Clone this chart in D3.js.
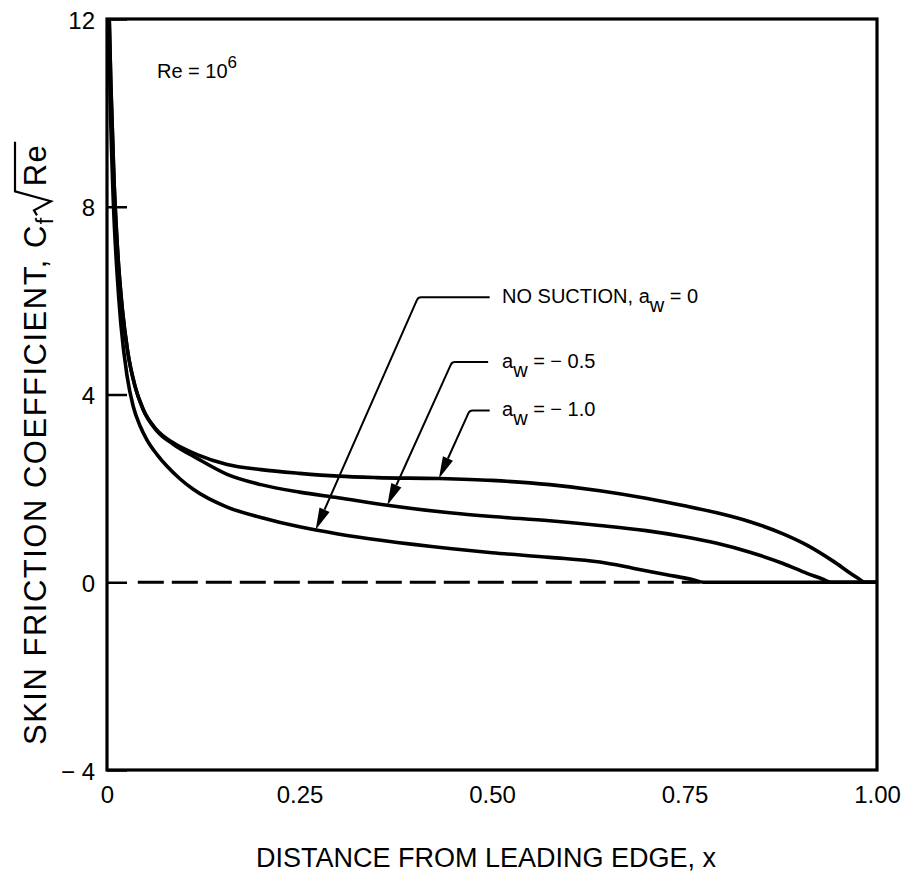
<!DOCTYPE html>
<html>
<head>
<meta charset="utf-8">
<script src="https://cdn.jsdelivr.net/npm/d3@7"></script>
<style>
  html, body { margin: 0; padding: 0; background: #fff; }
  svg { display: block; font-family: "Liberation Sans", Arial, Helvetica, sans-serif; }
</style>
</head>
<body>
<svg id="chart" width="907" height="875"></svg>
<script>
// Axis ticks
const xTicks = [0, 0.25, 0.5, 0.75, 1.0];
const xTickLabels = ["0", "0.25", "0.50", "0.75", "1.00"];
const yTicks = [-4, 0, 4, 8, 12];
const yTickLabels = ["\u2212 4", "0", "4", "8", "12"];

// Skin friction, no suction (a_w = 0)
const xNoSuction = [0.0015, 0.004, 0.008, 0.013, 0.018, 0.026, 0.034, 0.043, 0.052, 0.065, 0.078, 0.095, 0.112, 0.156, 0.2, 0.25, 0.3, 0.358, 0.445, 0.5, 0.575, 0.64, 0.683, 0.727, 0.76, 0.775, 1.0];
const cfNoSuction = [12.6, 10.4, 8.2, 6.6, 5.5, 4.4, 3.75, 3.33, 3.03, 2.72, 2.47, 2.2, 1.98, 1.60, 1.38, 1.18, 1.03, 0.89, 0.72, 0.63, 0.53, 0.43, 0.30, 0.16, 0.06, 0.0, 0.0];

// Skin friction, a_w = -0.5
const xSuction05 = [0.002, 0.005, 0.009, 0.014, 0.02, 0.027, 0.036, 0.047, 0.065, 0.086, 0.117, 0.156, 0.2, 0.25, 0.3, 0.364, 0.445, 0.5, 0.575, 0.64, 0.7, 0.75, 0.792, 0.835, 0.878, 0.909, 0.929, 0.94, 1.0];
const cfSuction05 = [12.6, 10.6, 8.6, 7.0, 5.8, 4.9, 4.2, 3.68, 3.22, 2.94, 2.64, 2.30, 2.08, 1.92, 1.80, 1.64, 1.48, 1.40, 1.31, 1.21, 1.10, 0.97, 0.83, 0.64, 0.40, 0.19, 0.07, 0.0, 0.0];

// Skin friction, a_w = -1.0
const xSuction10 = [0.002, 0.005, 0.009, 0.014, 0.02, 0.027, 0.036, 0.047, 0.065, 0.086, 0.117, 0.156, 0.2, 0.25, 0.3, 0.35, 0.431, 0.5, 0.575, 0.64, 0.7, 0.75, 0.792, 0.835, 0.878, 0.909, 0.943, 0.974, 0.985, 1.0];
const cfSuction10 = [12.6, 10.6, 8.6, 7.0, 5.8, 4.9, 4.2, 3.68, 3.24, 2.97, 2.72, 2.51, 2.40, 2.32, 2.26, 2.23, 2.21, 2.17, 2.08, 1.95, 1.79, 1.63, 1.48, 1.29, 1.03, 0.79, 0.45, 0.10, 0.0, 0.0];

// Zero reference (dashed)
const xZeroRef = [0.04, 0.77];
const cfZeroRef = [0, 0];

// Callouts: label pieces, arrow tip x on the curve, elbow point
const calloutMain = ["NO SUCTION, a", "a", "a"];
const calloutSub = ["w", "w", "w"];
const calloutTail = [" = 0", " = \u2212 0.5", " = \u2212 1.0"];
const calloutTipX = [0.271, 0.364, 0.431];
const calloutElbowX = [0.404, 0.448, 0.471];
const calloutElbowY = [6.07, 4.69, 3.66];
const calloutLineEndX = [0.497, 0.495, 0.497];
const calloutTextX = 0.513;

const svg = d3.select("#chart");
const plotLeft = 107, plotRight = 877, plotTop = 19, plotBottom = 770;

const x = d3.scaleLinear().domain([0, 1]).range([plotLeft, plotRight]);
const y = d3.scaleLinear().domain([-4, 12]).range([plotBottom, plotTop]);

svg.append("defs").append("clipPath").attr("id", "plotClip")
  .append("rect").attr("x", plotLeft).attr("y", plotTop)
  .attr("width", plotRight - plotLeft).attr("height", plotBottom - plotTop);

// Y axis: inward ticks on the left edge
const yAxis = d3.axisLeft(y).tickValues(yTicks)
  .tickFormat((d, i) => yTickLabels[i])
  .tickSizeInner(-20).tickSizeOuter(0).tickPadding(12);
const gy = svg.append("g").attr("transform", `translate(${plotLeft},0)`).call(yAxis);
gy.select(".domain").remove();
gy.selectAll(".tick line").attr("stroke", "#000").attr("stroke-width", 2.5);
gy.selectAll(".tick text").attr("font-size", 24).attr("fill", "#000")
  .attr("font-family", "Liberation Sans, Arial, sans-serif").attr("dy", "0.38em");

// X axis: labels only
const xAxis = d3.axisBottom(x).tickValues(xTicks)
  .tickFormat((d, i) => xTickLabels[i])
  .tickSizeInner(0).tickSizeOuter(0).tickPadding(16);
const gx = svg.append("g").attr("transform", `translate(0,${plotBottom})`).call(xAxis);
gx.select(".domain").remove();
gx.selectAll(".tick line").remove();
gx.selectAll(".tick text").attr("font-size", 24).attr("fill", "#000")
  .attr("font-family", "Liberation Sans, Arial, sans-serif");

// Frame
svg.append("rect").attr("x", plotLeft).attr("y", plotTop)
  .attr("width", plotRight - plotLeft).attr("height", plotBottom - plotTop)
  .attr("fill", "none").attr("stroke", "#000").attr("stroke-width", 3.2);

const line = d3.line().x(d => x(d[0])).y(d => y(d[1])).curve(d3.curveMonotoneX);
const zip = (xs, ys) => xs.map((v, i) => [v, ys[i]]);

const plot = svg.append("g").attr("clip-path", "url(#plotClip)");

plot.append("path").datum(zip(xZeroRef, cfZeroRef))
  .attr("d", d3.line().x(d => x(d[0])).y(d => y(d[1])))
  .attr("fill", "none").attr("stroke", "#000").attr("stroke-width", 3)
  .attr("stroke-dasharray", "26,8");

const series = [
  zip(xNoSuction, cfNoSuction),
  zip(xSuction05, cfSuction05),
  zip(xSuction10, cfSuction10)
];
plot.selectAll("path.curve").data(series).join("path")
  .attr("class", "curve")
  .attr("d", line)
  .attr("fill", "none").attr("stroke", "#000").attr("stroke-width", 3.6)
  .attr("stroke-linejoin", "round");

// Linear lookup along a series
function valueAt(s, xv) {
  for (let i = 1; i < s.length; i++) {
    if (xv <= s[i][0]) {
      const t = (xv - s[i - 1][0]) / (s[i][0] - s[i - 1][0]);
      return s[i - 1][1] + t * (s[i][1] - s[i - 1][1]);
    }
  }
  return s[s.length - 1][1];
}

// Callouts with arrowheads
const ann = svg.append("g");
series.forEach((s, i) => {
  const tx = x(calloutTipX[i]), ty = y(valueAt(s, calloutTipX[i]));
  const ex = x(calloutElbowX[i]), ey = y(calloutElbowY[i]);
  const hx = x(calloutLineEndX[i]);
  const dx = tx - ex, dy = ty - ey, len = Math.hypot(dx, dy);
  const ux = dx / len, uy = dy / len;
  const headLen = 22, headHalf = 5.5;
  const bx = tx - ux * headLen, by = ty - uy * headLen;
  ann.append("path")
    .attr("d", `M${hx},${ey}L${ex + 3},${ey}Q${ex},${ey} ${ex + ux * 3},${ey + uy * 3}L${bx},${by}`)
    .attr("fill", "none").attr("stroke", "#000").attr("stroke-width", 2);
  ann.append("path")
    .attr("d", `M${tx},${ty}L${bx - uy * headHalf},${by + ux * headHalf}L${bx + uy * headHalf},${by - ux * headHalf}Z`)
    .attr("fill", "#000");
  const t = ann.append("text").attr("x", x(calloutTextX)).attr("y", ey + 6)
    .attr("font-size", 20).attr("fill", "#000");
  t.append("tspan").text(calloutMain[i]);
  t.append("tspan").attr("dy", 9).text(calloutSub[i]);
  t.append("tspan").attr("dy", -9).text(calloutTail[i]);
});

// Reynolds number note
const re = svg.append("text").attr("x", 157).attr("y", 78)
  .attr("font-size", 20).attr("fill", "#000");
re.append("tspan").text("Re = 10");
re.append("tspan").attr("dy", -10).attr("font-size", 17).text("6");

// Axis titles
svg.append("text").attr("x", (plotLeft + plotRight) / 2 - 6).attr("y", 867)
  .attr("text-anchor", "middle").attr("font-size", 27).attr("fill", "#000")
  .text("DISTANCE FROM LEADING EDGE, x");

const ytGroup = svg.append("g").attr("transform", "translate(46,745) rotate(-90)");
const yt = ytGroup.append("text")
  .attr("text-anchor", "start").attr("font-size", 31)
  .attr("letter-spacing", 1.5).attr("fill", "#000");
const ytMain = "SKIN FRICTION COEFFICIENT, C";
yt.append("tspan").text(ytMain);
yt.append("tspan").attr("dy", 7).attr("font-size", 23).text("f");
yt.append("tspan").attr("dy", -7).attr("dx", 30).text("Re");

// Square-root sign drawn over "Re"
const ytNode = yt.node();
const reStart = ytNode.getStartPositionOfChar(ytMain.length + 1).x;
const reLen = ytNode.getSubStringLength(ytMain.length + 1, 2);
ytGroup.append("path")
  .attr("d", `M${reStart - 29},${-9}L${reStart - 24},${-12}L${reStart - 15},${5}L${reStart - 5},${-31}L${reStart + reLen + 2},${-31}`)
  .attr("fill", "none").attr("stroke", "#000").attr("stroke-width", 2.2)
  .attr("stroke-linejoin", "miter");
</script>
</body>
</html>
